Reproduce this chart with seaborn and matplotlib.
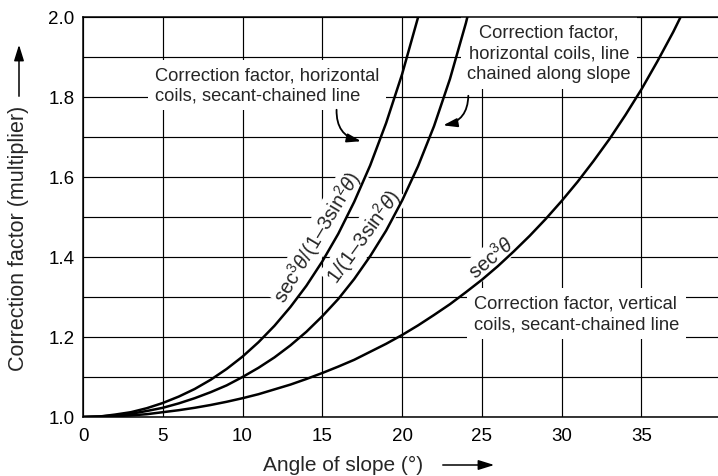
import numpy as np
import pandas as pd
import matplotlib
matplotlib.use("Agg")
import matplotlib.pyplot as plt
import seaborn as sns

# Values
angle_sec3 = [0, 1, 2, 3, 4, 5, 6, 7, 8, 9, 10, 11, 12, 13, 14, 15, 16, 17, 18, 19,
              20, 21, 22, 23, 24, 25, 26, 27, 28, 29, 30, 31, 32, 33, 34, 35, 36, 37, 38]
factor_sec3 = [1.000, 1.001, 1.002, 1.004, 1.007, 1.012, 1.017, 1.023, 1.030, 1.038,
               1.047, 1.057, 1.069, 1.081, 1.095, 1.110, 1.126, 1.143, 1.163, 1.183,
               1.205, 1.229, 1.255, 1.282, 1.312, 1.343, 1.377, 1.414, 1.453, 1.495,
               1.540, 1.588, 1.640, 1.695, 1.755, 1.819, 1.889, 1.963, 2.044]

angle_chained = [0, 1, 2, 3, 4, 5, 6, 7, 8, 9, 10, 11, 12, 13, 14, 15, 16, 17, 18, 19,
                 20, 21, 22, 23, 24, 24.5]
factor_chained = [1.000, 1.001, 1.004, 1.008, 1.015, 1.023, 1.034, 1.047, 1.062, 1.079,
                  1.100, 1.123, 1.149, 1.179, 1.213, 1.252, 1.295, 1.345, 1.402, 1.466,
                  1.541, 1.627, 1.727, 1.845, 1.985, 2.066]

angle_secant = [0, 1, 2, 3, 4, 5, 6, 7, 8, 9, 10, 11, 12, 13, 14, 15, 16, 17, 18, 19,
                20, 21, 21.5]
factor_secant = [1.000, 1.001, 1.006, 1.012, 1.022, 1.035, 1.051, 1.070, 1.093, 1.120,
                 1.151, 1.187, 1.228, 1.275, 1.328, 1.389, 1.458, 1.538, 1.629, 1.735,
                 1.857, 1.999, 2.079]

x_ticks = [0, 5, 10, 15, 20, 25, 30, 35]
y_ticks = [1.0, 1.2, 1.4, 1.6, 1.8, 2.0]
y_minor = [1.1, 1.3, 1.5, 1.7, 1.9]

df = pd.concat([
    pd.DataFrame({"angle": angle_sec3, "factor": factor_sec3, "curve": "sec3"}),
    pd.DataFrame({"angle": angle_chained, "factor": factor_chained, "curve": "chained"}),
    pd.DataFrame({"angle": angle_secant, "factor": factor_secant, "curve": "secant"}),
])

sns.set_theme(style="white")
plt.rcParams["font.family"] = ["Liberation Sans", "DejaVu Sans"]
plt.rcParams["mathtext.fontset"] = "custom"
plt.rcParams["mathtext.rm"] = "Liberation Sans"
plt.rcParams["mathtext.it"] = "Liberation Sans:italic"

fig = plt.figure(figsize=(7.18, 4.77), dpi=100)
ax = fig.add_axes([0.1156, 0.1237, 0.8844, 0.8386])

sns.lineplot(data=df, x="angle", y="factor", hue="curve",
             palette=["black", "black", "black"], linewidth=1.8,
             legend=False, ax=ax, zorder=2)

ax.set_xlim(0, 39.8)
ax.set_ylim(1.0, 2.0)
ax.set_xticks(x_ticks)
ax.set_yticks(y_ticks)
ax.set_yticks(y_minor, minor=True)
ax.set_yticklabels([f"{v:.1f}" for v in y_ticks])
ax.tick_params(axis="both", which="both", length=0, labelsize=13.5, colors="black")
ax.tick_params(axis="x", pad=7)
ax.tick_params(axis="y", pad=6)
ax.grid(True, which="both", color="black", linewidth=0.85)
ax.set_axisbelow(True)
ax.set_xlabel("")
ax.set_ylabel("")
for side in ["left", "bottom", "top"]:
    ax.spines[side].set_color("black")
    ax.spines[side].set_linewidth(1.1)
ax.spines["right"].set_visible(False)

box = dict(boxstyle="square,pad=0.35", facecolor="white", edgecolor="none")
small_box = dict(boxstyle="square,pad=0.1", facecolor="white", edgecolor="none")

# curve labels
ax.text(14.7, 1.452, r"sec$^3\theta$/(1–3sin$^2\theta$)", rotation=59,
        ha="center", va="center", fontsize=14.5, bbox=small_box, zorder=1.5)
ax.text(17.6, 1.452, r"1/(1–3sin$^2\theta$)", rotation=54,
        ha="center", va="center", fontsize=14.5, bbox=small_box, zorder=1.5)
ax.text(25.6, 1.40, r"sec$^3\theta$", rotation=40,
        ha="center", va="center", fontsize=14.5, bbox=small_box, zorder=1.5)

# descriptive notes with arrows
ax.text(4.5, 1.83, "Correction factor, horizontal\ncoils, secant-chained line",
        ha="left", va="center", fontsize=13.2, linespacing=1.3, bbox=box, zorder=1.5)
ax.annotate("", xy=(17.6, 1.688), xytext=(15.9, 1.775),
            arrowprops=dict(arrowstyle="-|>,head_length=0.7,head_width=0.22",
                            color="black", lw=1.3,
                            connectionstyle="arc3,rad=0.45"))

ax.text(29.2, 1.91, "Correction factor,\nhorizontal coils, line\nchained along slope",
        ha="center", va="center", multialignment="center", fontsize=13.2,
        linespacing=1.3, bbox=box, zorder=1.5)
ax.annotate("", xy=(22.4, 1.728), xytext=(24.15, 1.81),
            arrowprops=dict(arrowstyle="-|>,head_length=0.7,head_width=0.22",
                            color="black", lw=1.3,
                            connectionstyle="arc3,rad=-0.45"))

ax.text(24.5, 1.258, "Correction factor, vertical\ncoils, secant-chained line",
        ha="left", va="center", fontsize=13.2, linespacing=1.3, bbox=box, zorder=1.5)

# axis titles with arrows
fig.text(343 / 718, 1 - 471 / 477, "Angle of slope (°)", ha="center", va="baseline",
         fontsize=15)
fig.text(19 / 718, 1 - 238 / 477, "Correction factor (multiplier)", ha="center",
         va="center", rotation=90, fontsize=15.5)
arrow = dict(arrowstyle="-|>,head_length=0.8,head_width=0.25", color="black", lw=1.1)
ax.annotate("", xy=(497 / 718, 1 - 466 / 477), xytext=(440 / 718, 1 - 466 / 477),
            xycoords="figure fraction", arrowprops=arrow, annotation_clip=False)
ax.annotate("", xy=(19 / 718, 1 - 43 / 477), xytext=(19 / 718, 1 - 100 / 477),
            xycoords="figure fraction", arrowprops=arrow, annotation_clip=False)

fig.savefig("out.png", dpi=100)
